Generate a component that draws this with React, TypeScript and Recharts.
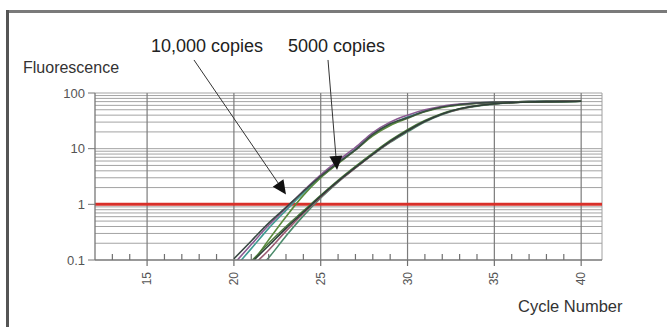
import React from 'react';
import { LineChart, Line, XAxis, YAxis, ReferenceLine } from 'recharts';

// ---- data ----
const cycles = [20, 21, 22, 23, 24, 25, 26, 27, 28, 29, 30, 31, 32, 33, 34, 35, 36, 37, 38, 39, 40];

// 10,000 copies replicates
const rep10kA = [0.105, 0.22, 0.46, 0.88, 1.7, 3.2, 5.6, 9.5, 18, 28, 36, 47, 56, 62, 66, 68, 69, 70, 70, 71, 71];
const rep10kB = [0.085, 0.19, 0.42, 0.85, 1.75, 3.4, 6.1, 10.5, 19.5, 30, 40, 50, 58, 63, 66, 68, 69, 70, 70, 71, 71];
const rep10kC = [0.07, 0.16, 0.37, 0.78, 1.6, 3.1, 5.6, 9.8, 18, 27, 37, 47, 56, 62, 66, 68, 69, 70, 71, 71, 72];
const rep10kD = [0.04, 0.085, 0.23, 0.6, 1.45, 3.0, 5.4, 9.4, 17, 26, 35, 46, 55, 61, 65, 68, 69, 70, 70, 71, 71];

// 5000 copies replicates
const rep5kA = [0.045, 0.09, 0.18, 0.37, 0.72, 1.4, 2.6, 4.6, 8.0, 13.5, 21, 31, 42, 52, 59, 64, 67, 69, 70, 70, 71];
const rep5kB = [0.04, 0.075, 0.15, 0.33, 0.69, 1.35, 2.55, 4.5, 7.9, 13.2, 21, 31, 42, 51, 59, 64, 67, 69, 70, 71, 71];
const rep5kC = [0.03, 0.055, 0.11, 0.27, 0.62, 1.3, 2.5, 4.5, 7.8, 13, 20, 30, 41, 51, 58, 63, 67, 69, 70, 70, 71];
const rep5kD = [0.05, 0.095, 0.2, 0.4, 0.76, 1.45, 2.7, 4.8, 8.3, 14, 22, 32, 43, 52, 59, 64, 67, 69, 70, 70, 71];

const yTicks = [0.1, 1, 10, 100];
const xTicks = [13, 14, 15, 16, 17, 18, 19, 20, 21, 22, 23, 24, 25, 26, 27, 28, 29, 30, 31, 32, 33, 34, 35, 36, 37, 38, 39, 40];
const majorCycles = [15, 20, 25, 30, 35, 40];
const gridValues = [
  0.2, 0.3, 0.4, 0.5, 0.6, 0.7, 0.8, 0.9,
  2, 3, 4, 5, 6, 7, 8, 9,
  10, 20, 30, 40, 50, 60, 70, 80, 90, 100,
];
const threshold = 1;
const xMin = 12;
const xMax = 41.2;
const yMin = 0.1;
const yMax = 100;

const arrow10k = [{ x: 17.7, y: 392 }, { x: 23.0, y: 1.5 }];
const arrow5k = [{ x: 25.42, y: 392 }, { x: 25.94, y: 4.14 }];

const series = [
  { key: 'r10kC', values: rep10kC, color: '#3f9a92' },
  { key: 'r10kD', values: rep10kD, color: '#5a8a3c' },
  { key: 'r10kB', values: rep10kB, color: '#8a5a92' },
  { key: 'r10kA', values: rep10kA, color: '#3a4a44' },
  { key: 'r5kC', values: rep5kC, color: '#4a8a6a' },
  { key: 'r5kB', values: rep5kB, color: '#9a5a72' },
  { key: 'r5kD', values: rep5kD, color: '#4b7a3b' },
  { key: 'r5kA', values: rep5kA, color: '#2f3f3a' },
];

const rows = cycles.map((c, i) => {
  const row: Record<string, number> = { c };
  series.forEach((s) => {
    row[s.key] = s.values[i];
  });
  return row;
});

const FONT = '"Liberation Sans", Arial, Helvetica, sans-serif';

const XTick = (props: any) => {
  const { x, y, payload } = props;
  const v = payload.value;
  if (majorCycles.includes(v)) {
    return (
      <g>
        <line x1={x} y1={y} x2={x} y2={y + 6} stroke="#707070" strokeWidth={1.2} />
        <text
          x={x + 4}
          y={y + 12}
          transform={`rotate(-90, ${x + 4}, ${y + 12})`}
          textAnchor="end"
          fontSize={12}
          fill="#555"
          fontFamily={FONT}
        >
          {v}
        </text>
      </g>
    );
  }
  return <line x1={x} y1={y} x2={x} y2={y - 6} stroke="#707070" strokeWidth={1.2} />;
};

const arrowShape = (props: any) => {
  const { x1, y1, x2, y2 } = props;
  const dx = x2 - x1;
  const dy = y2 - y1;
  const len = Math.sqrt(dx * dx + dy * dy) || 1;
  const ux = dx / len;
  const uy = dy / len;
  const hl = 14;
  const hw = 6.5;
  const bx = x2 - ux * hl;
  const by = y2 - uy * hl;
  const p1 = `${x2},${y2}`;
  const p2 = `${bx - uy * hw},${by + ux * hw}`;
  const p3 = `${bx + uy * hw},${by - ux * hw}`;
  return (
    <g>
      <line x1={x1} y1={y1} x2={bx} y2={by} stroke="#333" strokeWidth={1} />
      <polygon points={`${p1} ${p2} ${p3}`} fill="#111" />
    </g>
  );
};

export default function App() {
  return (
    <div style={{ position: 'absolute', left: 0, top: 0, width: 667, height: 327, background: '#fff', fontFamily: FONT }}>
      <LineChart
        width={667}
        height={327}
        data={rows}
        margin={{ top: 93, right: 65, bottom: 27, left: 55 }}
      >
        <XAxis
          dataKey="c"
          type="number"
          domain={[xMin, xMax]}
          allowDataOverflow
          ticks={xTicks}
          interval={0}
          tickLine={false}
          tickSize={0}
          tickMargin={0}
          tick={<XTick />}
          height={40}
          axisLine={{ stroke: '#777', strokeWidth: 1.3 }}
        />
        <YAxis
          scale="log"
          domain={[yMin, yMax]}
          allowDataOverflow
          ticks={yTicks}
          interval={0}
          width={40}
          tickSize={7}
          tickMargin={3}
          tick={{ fontSize: 13, fill: '#555', fontFamily: FONT }}
          tickLine={{ stroke: '#777' }}
          axisLine={{ stroke: '#777', strokeWidth: 1.3 }}
          tickFormatter={(v: number) => String(v)}
        />
        {gridValues.map((g) => (
          <ReferenceLine key={'h' + g} y={g} stroke="#a3a3a3" strokeWidth={1} />
        ))}
        {majorCycles.map((m) => (
          <ReferenceLine key={'v' + m} x={m} stroke="#7c7c7c" strokeWidth={1.2} />
        ))}
        <ReferenceLine x={xMax} stroke="#a0a0a0" strokeWidth={1} />
        <ReferenceLine y={threshold} stroke="#d8302a" strokeWidth={3} />
        {series.map((s) => (
          <Line
            key={s.key}
            dataKey={s.key}
            type="monotone"
            stroke={s.color}
            strokeWidth={1.6}
            dot={false}
            isAnimationActive={false}
          />
        ))}
        <ReferenceLine segment={arrow10k} ifOverflow="visible" shape={arrowShape} />
        <ReferenceLine segment={arrow5k} ifOverflow="visible" shape={arrowShape} />
      </LineChart>
      <svg
        width={667}
        height={327}
        style={{ position: 'absolute', left: 0, top: 0, pointerEvents: 'none' }}
      >
        <rect x={7} y={10} width={660} height={3} fill="#7a7a7a" />
        <rect x={6} y={10} width={3} height={317} fill="#555" />
        <text x={23} y={73} fontSize={16} fill="#333" fontFamily={FONT}>Fluorescence</text>
        <text x={518} y={312} fontSize={16.5} fill="#333" fontFamily={FONT}>Cycle Number</text>
        <text x={151} y={52} fontSize={18} fill="#222" fontFamily={FONT}>10,000 copies</text>
        <text x={288} y={52} fontSize={18} fill="#222" fontFamily={FONT}>5000 copies</text>
      </svg>
    </div>
  );
}
